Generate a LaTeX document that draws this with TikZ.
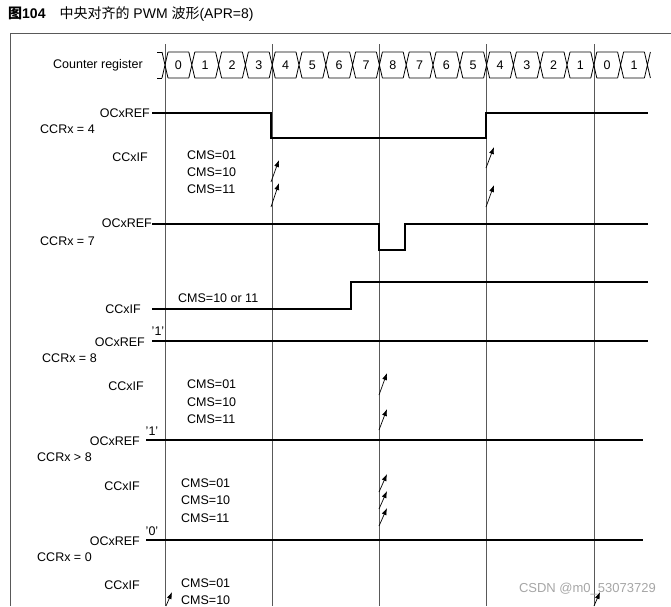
\documentclass[tikz,border=0pt]{standalone}
\usepackage{fontspec}
\setmainfont{Liberation Sans}
\newfontfamily\cjk{Noto Sans CJK SC}
\usetikzlibrary{arrows.meta}
\tikzset{
  lbl/.style={font=\fontsize{12.5}{13}\selectfont, inner sep=0pt},
  cms/.style={lbl, anchor=west, align=left},
  wave/.style={line width=2pt},
  grid/.style={line width=0.6pt, gray!70!black},
  flag/.style={line width=0.7pt, -{Latex[length=7pt,width=5pt]}}
}
\begin{document}
\begin{tikzpicture}[x=1pt,y=-1pt]
  \useasboundingbox (0,0) rectangle (671,606);
  \pgfmathsetmacro\w{26.8}
  % title and frame
  \node[anchor=west, inner sep=0pt, font=\fontsize{14}{15}\selectfont] (title) at (8,14)
    {\textbf{\cjk 图}\textbf{104}\quad{\cjk 中央对齐的} PWM {\cjk 波形}(APR=8)};
  \draw[grid] (10,606) -- (10,33) -- (671,33);
  % time marks:
  \foreach \c in {0,4,8,12,16}
    \draw[grid] (165+\w*\c,44) -- (165+\w*\c,606);
  % counter register:
  \node[lbl, anchor=east] (cnt) at (143,65) {Counter register};
  \draw[line width=0.8pt] (157,52) -- (162,52) (157,78) -- (162,78);
  \foreach \v [count=\i from 0] in {0,1,2,3,4,5,6,7,8,7,6,5,4,3,2,1,0,1} {
    \pgfmathsetmacro\a{165+\w*\i}
    \pgfmathsetmacro\b{\a+\w}
    \draw[line width=0.8pt] (\a-3,52) -- (\a+3,78) (\a-3,78) -- (\a+3,52)
      (\a+3,52) -- (\b-3,52) (\a+3,78) -- (\b-3,78);
    \node[lbl] (c\i) at ({(\a+\b)/2},65) {\v};
  }
  \pgfmathsetmacro\e{165+18*\w}
  \draw[line width=0.8pt] (\e-3,52) -- (\e+3,78) (\e-3,78) -- (\e+3,52);
  % CCRx = 4:
  \node[lbl, anchor=east] (ref4) at (150,113) {OCxREF};
  \node[lbl, anchor=west] (ccr4) at (40,129) {CCRx = 4};
  \draw[wave] (152,113) -- (271,113) -- (271,138) -- (486,138) -- (486,113) -- (648,113);
  \node[lbl, anchor=east] (if4) at (148,157) {CCxIF};
  \node[cms] (cms4a) at (187,155) {CMS=01};
  \node[cms] (cms4b) at (187,172) {CMS=10};
  \node[cms] (cms4c) at (187,189) {CMS=11};
  \draw[flag] (271,182) -- (279,160);
  \draw[flag] (271,207) -- (279,183);
  \draw[flag] (486,168) -- (494,147);
  \draw[flag] (486,207) -- (494,185);
  % CCRx = 7:
  \node[lbl, anchor=east] (ref7) at (152,223) {OCxREF};
  \node[lbl, anchor=west] (ccr7) at (40,241) {CCRx = 7};
  \draw[wave] (152,224) -- (379,224) -- (379,250) -- (405,250) -- (405,224) -- (648,224);
  \node[lbl, anchor=east] (if7) at (141,309) {CCxIF};
  \node[cms] (cms7) at (178,298) {CMS=10 or 11};
  \draw[wave] (152,309) -- (351,309) -- (351,282) -- (648,282);
  % CCRx = 8:
  \node[lbl, anchor=east] (ref8) at (145,342) {OCxREF};
  \node[lbl] (one8) at (158,331) {'1'};
  \node[lbl, anchor=west] (ccr8) at (42,358) {CCRx = 8};
  \draw[line width=1.6pt] (152,341) -- (648,341);
  \node[lbl, anchor=east] (if8) at (144,386) {CCxIF};
  \node[cms] (cms8a) at (187,384) {CMS=01};
  \node[cms] (cms8b) at (187,402) {CMS=10};
  \node[cms] (cms8c) at (187,419) {CMS=11};
  \draw[flag] (379,395) -- (387,373);
  \draw[flag] (379,430) -- (387,409);
  % CCRx > 8:
  \node[lbl, anchor=east] (ref9) at (140,441) {OCxREF};
  \node[lbl] (one9) at (152,431) {'1'};
  \node[lbl, anchor=west] (ccr9) at (37,457) {CCRx > 8};
  \draw[wave] (146,440) -- (643,440);
  \node[lbl, anchor=east] (if9) at (140,486) {CCxIF};
  \node[cms] (cms9a) at (181,483) {CMS=01};
  \node[cms] (cms9b) at (181,500) {CMS=10};
  \node[cms] (cms9c) at (181,518) {CMS=11};
  \foreach \t in {474,491,508}
    \draw[flag] (379,\t+18) -- (387,\t);
  % CCRx = 0:
  \node[lbl, anchor=east] (ref0) at (140,541) {OCxREF};
  \node[lbl] (zero0) at (152,531) {'0'};
  \node[lbl, anchor=west] (ccr0) at (37,557) {CCRx = 0};
  \draw[wave] (146,540) -- (643,540);
  \node[lbl, anchor=east] (if0) at (140,585) {CCxIF};
  \node[cms] (cms0a) at (181,583) {CMS=01};
  \node[cms] (cms0b) at (181,600) {CMS=10};
  \draw[flag] (166,606) -- (172,592);
  \draw[flag] (594,606) -- (600,592);
  % watermark
  \node[lbl, anchor=east, gray!70, font=\fontsize{13}{14}\selectfont] (mark) at (656,589) {CSDN @m0\_53073729};
\end{tikzpicture}
\end{document}
